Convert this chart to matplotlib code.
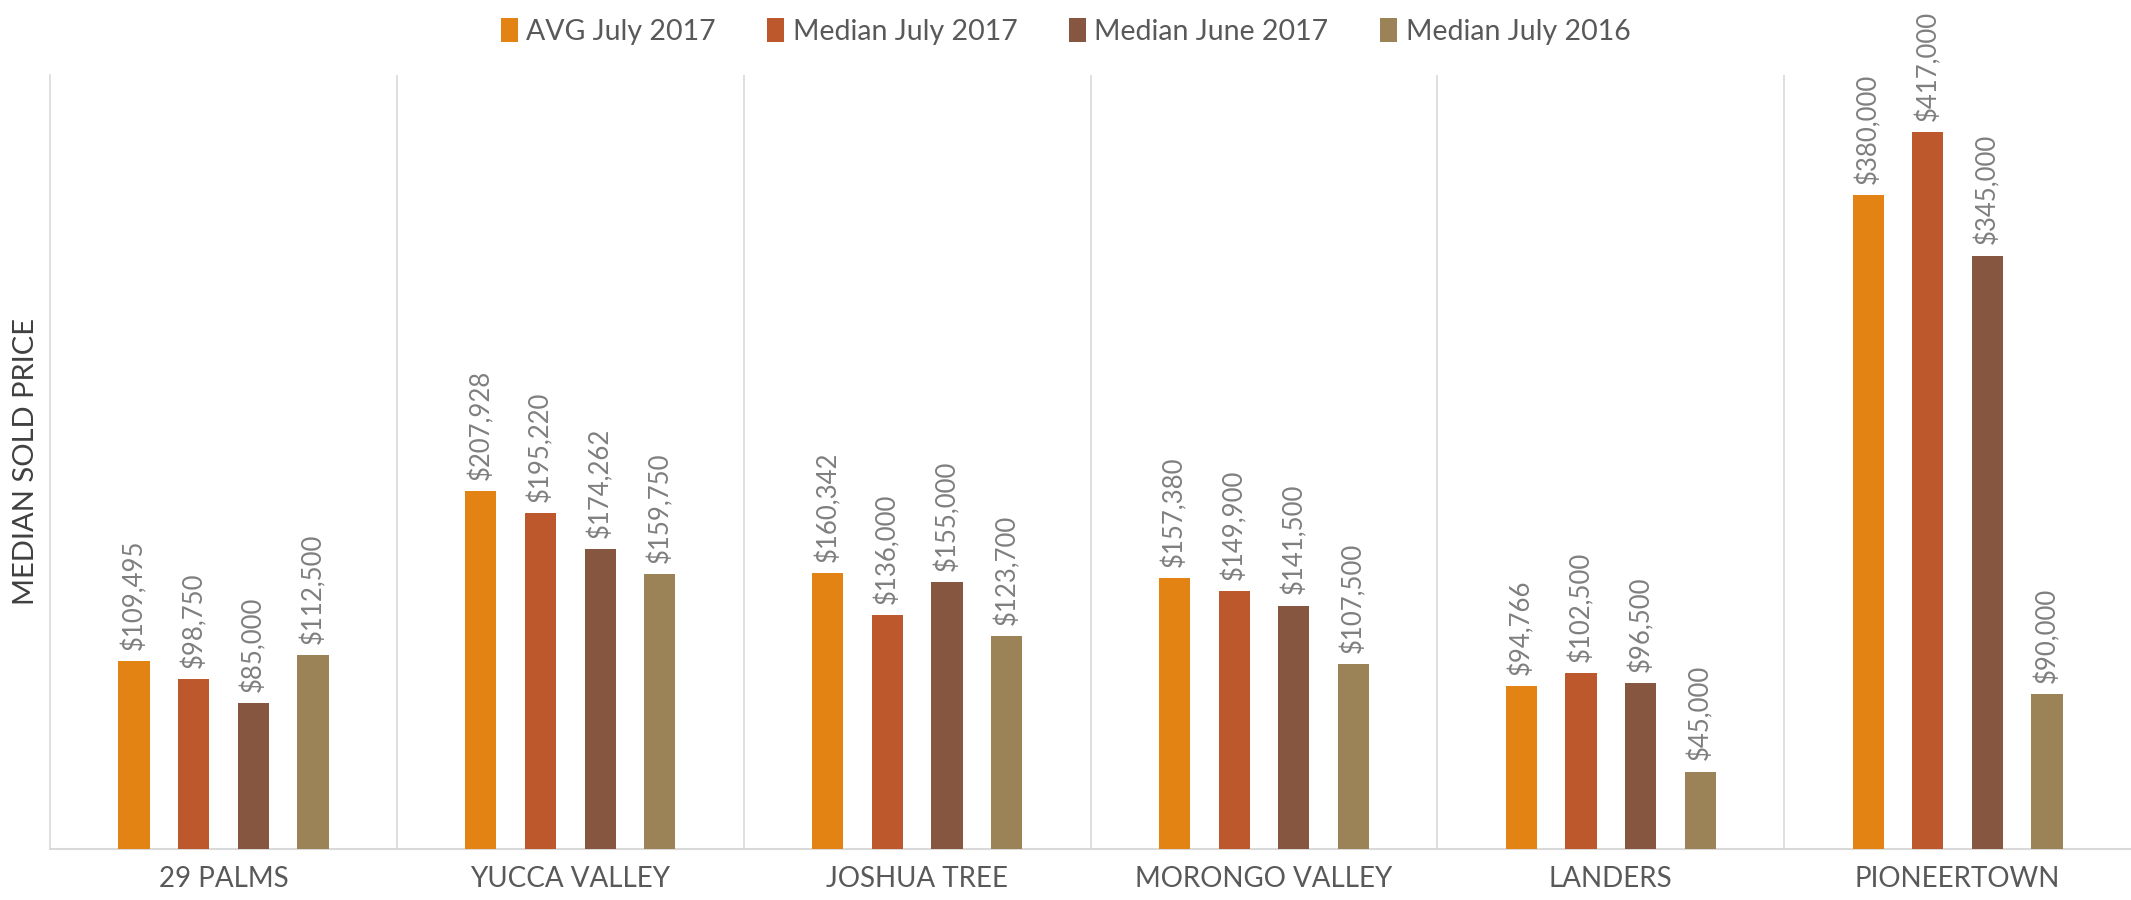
import matplotlib.pyplot as plt
import numpy as np

# Dados do gráfico
areas = ['29 PALMS', 'YUCCA VALLEY', 'JOSHUA TREE', 'MORONGO VALLEY', 'LANDERS', 'PIONEERTOWN']
series_names = ['AVG July 2017', 'Median July 2017', 'Median June 2017', 'Median July 2016']
avg_jul_2017 = [109495, 207928, 160342, 157380, 94766, 380000]
med_jul_2017 = [98750, 195220, 136000, 149900, 102500, 417000]
med_jun_2017 = [85000, 174262, 155000, 141500, 96500, 345000]
med_jul_2016 = [112500, 159750, 123700, 107500, 45000, 90000]
colors = ['#E38314', '#BD582C', '#865640', '#9B8357']

plt.rcParams['font.family'] = ['Lato', 'DejaVu Sans']

fig = plt.figure(figsize=(21.31, 9), dpi=100)
ax = fig.add_axes([0.0235, 0.0567, 0.9765, 0.86])

x = np.arange(len(areas))
bar_w = 0.09
pitch = 0.172
all_series = [avg_jul_2017, med_jul_2017, med_jun_2017, med_jul_2016]

for i, (vals, name, col) in enumerate(zip(all_series, series_names, colors)):
    pos = x + (i - 1.5) * pitch
    bars = ax.bar(pos, vals, width=bar_w, color=col, label=name, zorder=3)
    for b, v in zip(bars, vals):
        ax.annotate(f'${v:,}', (b.get_x() + b.get_width() / 2, v),
                    xytext=(0, 8), textcoords='offset points',
                    rotation=90, ha='center', va='bottom',
                    fontsize=18.5, color='#7F7F7F')

# Separadores verticais entre categorias
for b in np.arange(0.5, len(areas) - 0.5, 1):
    ax.axvline(b, color='#D9D9D9', lw=1.2, zorder=1)

ax.set_xlim(-0.5, len(areas) - 0.5)
ax.set_ylim(0, 450000)
ax.set_xticks(x)
ax.set_xticklabels(areas, fontsize=20, color='#595959')
ax.tick_params(axis='x', length=0, pad=12)
ax.set_yticks([])
ax.set_ylabel('MEDIAN SOLD PRICE', fontsize=21, color='#404040', labelpad=8)

for s in ['top', 'right']:
    ax.spines[s].set_visible(False)
ax.spines['left'].set_color('#D9D9D9')
ax.spines['bottom'].set_color('#D9D9D9')
ax.spines['left'].set_linewidth(1.2)
ax.spines['bottom'].set_linewidth(1.5)

leg = fig.legend(loc='upper center', bbox_to_anchor=(0.5, 1.008), ncol=4,
                 frameon=False, fontsize=20.5, handlelength=0.6, handleheight=0.9,
                 handletextpad=0.3, columnspacing=1.8)
for t in leg.get_texts():
    t.set_color('#595959')

plt.savefig('out.png', dpi=100)
plt.close()
